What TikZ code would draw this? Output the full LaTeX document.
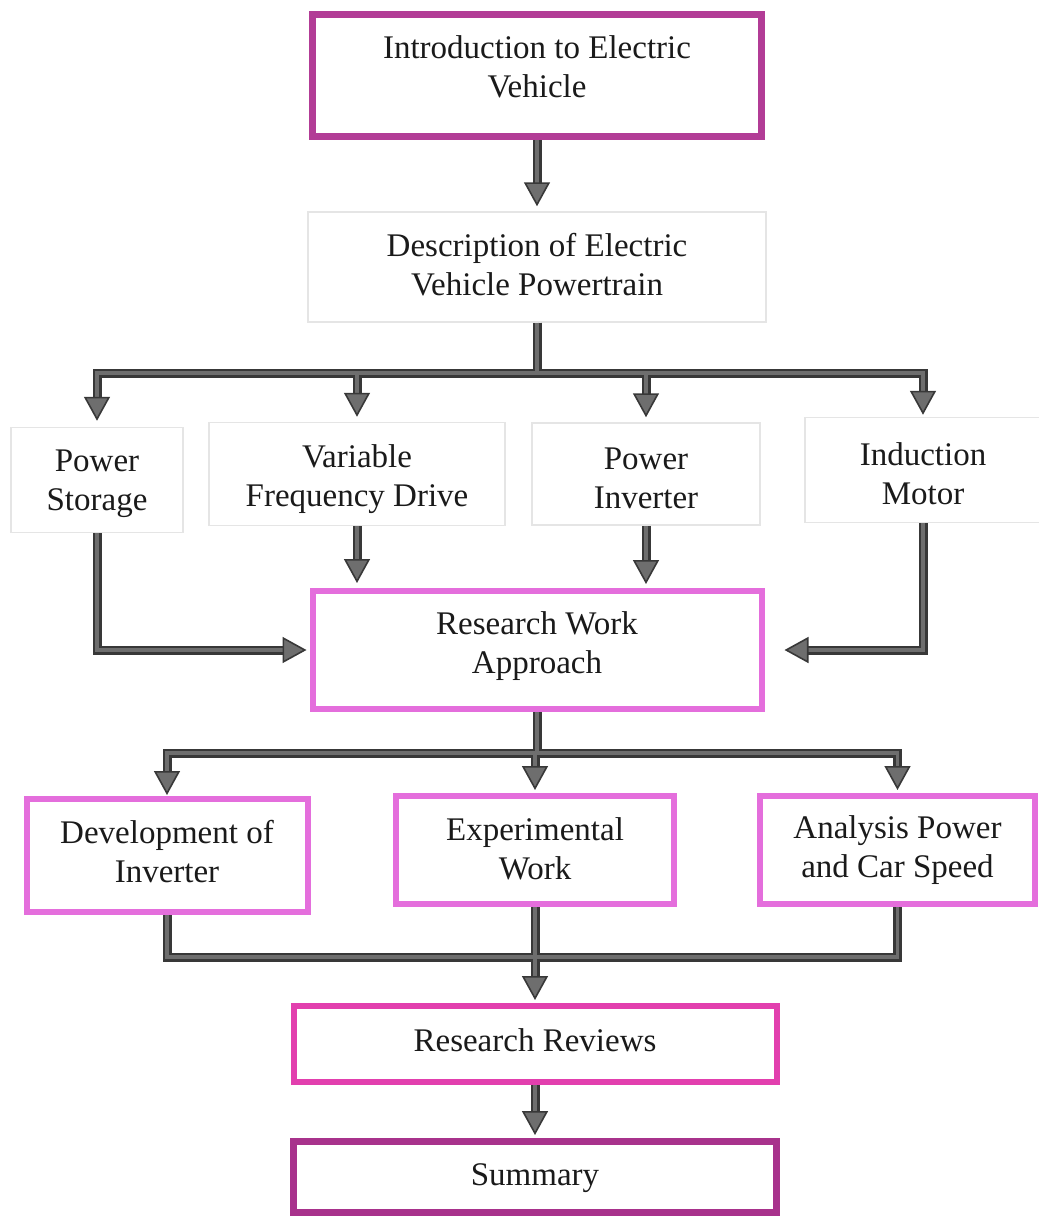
\documentclass[tikz,border=0pt]{standalone}
\usepackage{fontspec}
\setmainfont{Liberation Serif}
\usetikzlibrary{arrows.meta}
\definecolor{cIntro}{HTML}{B23C96}
\definecolor{cSum}{HTML}{A8328C}
\definecolor{cPink}{HTML}{E46EDC}
\definecolor{cRR}{HTML}{E23FAE}
\definecolor{lnDark}{HTML}{383838}
\definecolor{lnGray}{HTML}{6E6E6E}
\definecolor{txt}{HTML}{1A1A1A}
\begin{document}
\begin{tikzpicture}[x=1pt,y=-1pt,
  box/.style={rectangle, draw, line width=6, fill=white, inner sep=0},
  faint/.style={rectangle, draw=black!10, line width=1.5, inner sep=0},
  lbl/.style={align=center, text=txt, font=\fontsize{33}{39}\selectfont, inner sep=0},
  outerln/.style={draw=lnDark, line width=9, line join=miter},
  innerln/.style={draw=lnGray, line width=3.5, line join=miter},
  head/.style={-{Triangle[length=24,width=26,line width=1.6,color=lnDark,fill=lnGray]}}
]
\fill[white] (0,0) rectangle (1039,1216);
\useasboundingbox (0,0) rectangle (1039,1216);

% boxes
\node[box, draw=cIntro, line width=7, minimum width=449, minimum height=122] (intro) at (537,75.5) {};
\node[faint, minimum width=458, minimum height=110] (desc) at (537,267) {};
\node[faint, minimum width=172, minimum height=105] (ps) at (97,480) {};
\node[faint, minimum width=296, minimum height=103] (vfd) at (357,474) {};
\node[faint, minimum width=228, minimum height=102] (inv) at (646,474) {};
\node[faint, minimum width=236, minimum height=105] (mot) at (923,470) {};
\node[box, draw=cPink, minimum width=449, minimum height=118] (rwa) at (537,650) {};
\node[box, draw=cPink, minimum width=281, minimum height=113] (dev) at (167,855.5) {};
\node[box, draw=cPink, minimum width=278, minimum height=108] (exp) at (535,850) {};
\node[box, draw=cPink, minimum width=275, minimum height=108] (ana) at (897.5,850) {};
\node[box, draw=cRR, minimum width=483, minimum height=76] (rr) at (535,1044) {};
\node[box, draw=cSum, line width=7, minimum width=483, minimum height=71] (sum) at (535,1177) {};

% texts
\node[lbl, yshift=9] (introT) at (intro) {Introduction to Electric\\Vehicle};
\node[lbl, yshift=2] (descT) at (desc) {Description of Electric\\Vehicle Powertrain};
\node[lbl, yshift=-4] (psT) at (ps) {Power\\Storage};
\node[lbl, yshift=-5] (vfdT) at (vfd) {Variable\\Frequency Drive};
\node[lbl, yshift=-4] (invT) at (inv) {Power\\Inverter};
\node[lbl, yshift=-4] (motT) at (mot) {Induction\\Motor};
\node[lbl, yshift=4] (rwaT) at (rwa) {Research Work\\Approach};
\node[lbl, yshift=4] (devT) at (dev) {Development of\\Inverter};
\node[lbl, yshift=1] (expT) at (exp) {Experimental\\Work};
\node[lbl, yshift=0] (anaT) at (ana) {Analysis Power\\and Car Speed};
\node[lbl, yshift=4] (rrT) at (rr) {Research Reviews};
\node[lbl, yshift=-1] (sumT) at (sum) {Summary};

\coordinate (bar1) at (537,373);
\coordinate (bar2) at (537,753);
\coordinate (bar3) at (537,957);

% connectors: outer (dark) pass
\draw[outerln, shorten >=15] (intro.south) -- (desc.north);
\draw[outerln, shorten >=15] (desc.south) -- (bar1) -| (ps.north);
\draw[outerln, shorten >=15] (desc.south) -- (bar1) -| (vfd.north);
\draw[outerln, shorten >=15] (desc.south) -- (bar1) -| (inv.north);
\draw[outerln, shorten >=15] (desc.south) -- (bar1) -| (mot.north);
\draw[outerln, shorten >=13] (ps.south) |- (rwa.west);
\draw[outerln, shorten >=15] (vfd.south) -- (vfd.south |- rwa.north);
\draw[outerln, shorten >=15] (inv.south) -- (inv.south |- rwa.north);
\draw[outerln, shorten >=30] (mot.south) |- (rwa.east);
\draw[outerln, shorten >=12] (rwa.south) -- (bar2) -| (dev.north);
\draw[outerln, shorten >=13] (rwa.south) -- (bar2) -| (exp.north);
\draw[outerln, shorten >=13] (rwa.south) -- (bar2) -| (ana.north);
\draw[outerln] (dev.south) |- (bar3) -| (ana.south);
\draw[outerln, shorten >=13] (exp.south) -- (exp.south |- rr.north);
\draw[outerln, shorten >=13] (rr.south) -- (sum.north);

% connectors: inner (grey) pass with heads
\draw[innerln, head, shorten >=5] (intro.south) -- (desc.north);
\draw[innerln, head, shorten >=6] (desc.south) -- (bar1) -| (ps.north);
\draw[innerln, head, shorten >=5] (desc.south) -- (bar1) -| (vfd.north);
\draw[innerln, head, shorten >=5] (desc.south) -- (bar1) -| (inv.north);
\draw[innerln, head, shorten >=2] (desc.south) -- (bar1) -| (mot.north);
\draw[innerln, head, shorten >=3] (ps.south) |- (rwa.west);
\draw[innerln, head, shorten >=5] (vfd.south) -- (vfd.south |- rwa.north);
\draw[innerln, head, shorten >=4] (inv.south) -- (inv.south |- rwa.north);
\draw[innerln, head, shorten >=20] (mot.south) |- (rwa.east);
\draw[innerln, head, shorten >=1] (rwa.south) -- (bar2) -| (dev.north);
\draw[innerln, head, shorten >=3] (rwa.south) -- (bar2) -| (exp.north);
\draw[innerln, head, shorten >=3] (rwa.south) -- (bar2) -| (ana.north);
\draw[innerln] (dev.south) |- (bar3) -| (ana.south);
\draw[innerln, head, shorten >=3] (exp.south) -- (exp.south |- rr.north);
\draw[innerln, head, shorten >=3] (rr.south) -- (sum.north);
\end{tikzpicture}
\end{document}
